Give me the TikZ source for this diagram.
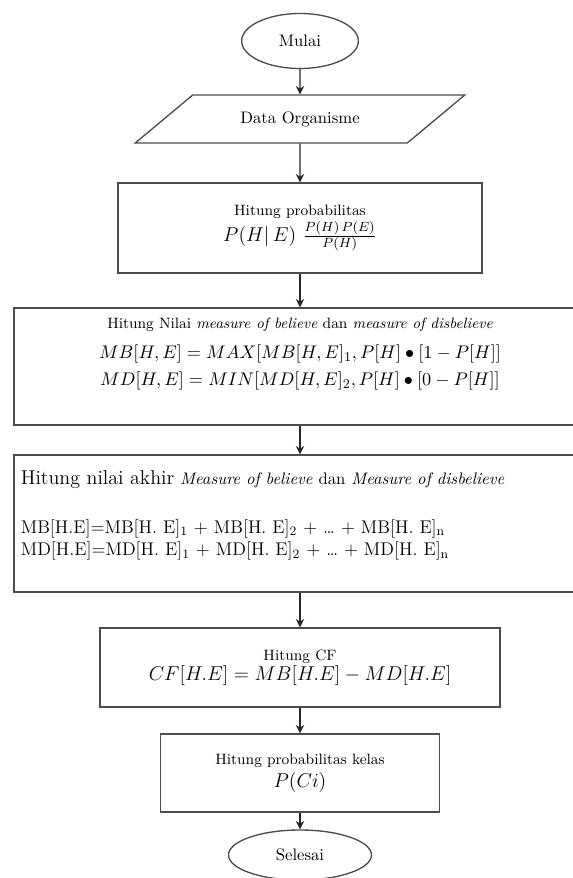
\documentclass[tikz,border=0pt]{standalone}
\usepackage{amsmath}
\usepackage{xcolor}
\usepackage{tikz}
\usetikzlibrary{arrows.meta,positioning,shapes.geometric,calc}

\begin{document}
\begin{tikzpicture}[
  x=0.6pt, y=-0.6pt,
  every node/.style={draw=black!70, thick, font=\normalsize, align=center, inner sep=3pt},
  terminal/.style={ellipse},
  io/.style={trapezium, trapezium left angle=36, trapezium right angle=144, trapezium stretches=true},
  process/.style={rectangle},
  flow/.style={draw=black!85, thick, -{Stealth[length=5pt,width=5pt]}}
]
  \useasboundingbox (0,0) rectangle (573,878);

  \node[terminal, minimum width=70pt, minimum height=33pt] (mulai) at (300,41) {Mulai};
  \node[io, minimum width=198pt, minimum height=28.8pt] (data) at (300,119) {Data Organisme};
  \node[process, minimum width=218.4pt, minimum height=54pt] (prob) at (300,228)
    {{\small Hitung probabilitas}\\[1pt]
     {\large $P(H|\,E)\ \frac{P(H)\,P(E)}{P(H)}$}};
  \node[process, minimum width=343.2pt, minimum height=70.2pt] (mbmd) at (300,366.5)
    {\parbox[c][64pt][t]{335pt}{\centering\fontsize{11}{15}\selectfont\vspace{3pt}
     {\small Hitung Nilai \textit{measure of believe} dan \textit{measure of disbelieve}}\\[3pt]
     $MB[H,E] = MAX[MB[H,E]_1, P[H] \bullet [1-P[H]]$\\[1pt]
     $MD[H,E] = MIN[MD[H,E]_2, P[H] \bullet [0-P[H]]$}};
  \node[process, minimum width=343.2pt, minimum height=82.2pt] (akhir) at (300,523.5)
    {\parbox[c][76pt][t]{335pt}{\raggedright\fontsize{11}{13.5}\selectfont\vspace{6pt}
     {\large Hitung nilai akhir} {\normalsize\itshape Measure of believe} {\normalsize dan} {\normalsize\itshape Measure of disbelieve}\\[16pt]
     MB[H.E]=MB[H. E]\textsubscript{1} + MB[H. E]\textsubscript{2} + \dots{} + MB[H. E]\textsubscript{n}\\
     MD[H.E]=MD[H. E]\textsubscript{1} + MD[H. E]\textsubscript{2} + \dots{} + MD[H. E]\textsubscript{n}}};
  \node[process, minimum width=240pt, minimum height=47.4pt] (cf) at (300,667.5)
    {{\small Hitung CF}\\
     {\large $CF[H.E] = MB[H.E] - MD[H.E]$}};
  \node[process, minimum width=167.4pt, minimum height=46.8pt] (kelas) at (300,773)
    {{\small Hitung probabilitas kelas}\\[2pt]
     {\large $P(Ci)$}};
  \node[terminal, minimum width=85.8pt, minimum height=30pt] (selesai) at (300,855) {Selesai};

  \draw[flow] (mulai.south) -- (data.north);
  \draw[flow] (data.south) -- (prob.north);
  \draw[flow] (prob.south) -- (mbmd.north);
  \draw[flow] (mbmd.south) -- (akhir.north);
  \draw[flow] (akhir.south) -- (cf.north);
  \draw[flow] (cf.south) -- (kelas.north);
  \draw[flow] (kelas.south) -- (selesai.north);
\end{tikzpicture}
\end{document}
